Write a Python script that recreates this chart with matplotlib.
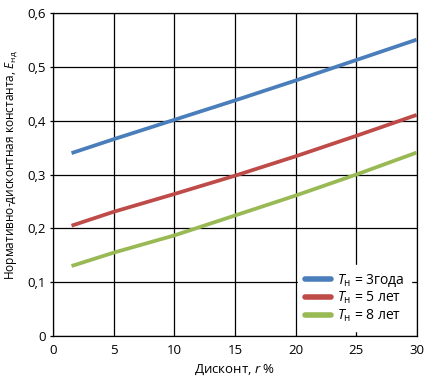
import matplotlib
matplotlib.use("Agg")
import matplotlib.pyplot as plt
from matplotlib.ticker import FuncFormatter

# данные
r_pct = [1.5, 5, 10, 15, 20, 25, 30]
e_3 = [0.340, 0.366, 0.402, 0.438, 0.475, 0.513, 0.551]
e_5 = [0.205, 0.231, 0.264, 0.298, 0.334, 0.372, 0.411]
e_8 = [0.130, 0.155, 0.187, 0.224, 0.261, 0.300, 0.341]
labels = [r"$T_{\mathrm{н}}$ = 3года", r"$T_{\mathrm{н}}$ = 5 лет", r"$T_{\mathrm{н}}$ = 8 лет"]
colors = ["#4a7ebb", "#be4b48", "#98b954"]
x_ticks = [0, 5, 10, 15, 20, 25, 30]
y_ticks = [0, 0.1, 0.2, 0.3, 0.4, 0.5, 0.6]

plt.rcParams["font.family"] = ["Open Sans", "DejaVu Sans"]
plt.rcParams["mathtext.fontset"] = "custom"
plt.rcParams["mathtext.rm"] = "Open Sans"
plt.rcParams["mathtext.it"] = "Open Sans:italic"

fig = plt.figure(figsize=(4.34, 3.8), dpi=100)
ax = fig.add_axes([0.123, 0.116, 0.837, 0.849])

for ys, c, lab in zip([e_3, e_5, e_8], colors, labels):
    ax.plot(r_pct, ys, color=c, lw=2.7, label=lab, solid_capstyle="butt", zorder=3)

ax.set_xlim(0, 30)
ax.set_ylim(0, 0.6)
ax.set_xticks(x_ticks)
ax.set_yticks(y_ticks)
ax.yaxis.set_major_formatter(FuncFormatter(lambda v, p: "0" if v == 0 else ("%.1f" % v).replace(".", ",")))
ax.grid(True, color="black", lw=0.9)
ax.set_axisbelow(True)
for s in ax.spines.values():
    s.set_linewidth(0.9)
ax.tick_params(axis="both", direction="out", length=2.5, width=0.9, labelsize=9.5, pad=3)
ax.tick_params(axis="x", length=0, pad=6)

ax.set_xlabel(r"Дисконт, $\it{r}$ %", fontsize=9.5, labelpad=4)
ax.set_ylabel(r"Нормативно-дисконтная константа, $E_{\mathrm{нд}}$", fontsize=8.6)
ax.yaxis.set_label_coords(-0.095, 0.53)

leg = ax.legend(loc="lower right", bbox_to_anchor=(0.985, 0.015), frameon=True, fancybox=False,
                fontsize=10, handlelength=1.9, handletextpad=0.4, labelspacing=0.1,
                borderpad=0.5, borderaxespad=0)
leg.get_frame().set_edgecolor("white")
leg.get_frame().set_facecolor("white")
leg.get_frame().set_alpha(1)
for h in leg.get_lines():
    h.set_linewidth(4)
    h.set_solid_capstyle("round")

fig.savefig("out.png", dpi=100)
